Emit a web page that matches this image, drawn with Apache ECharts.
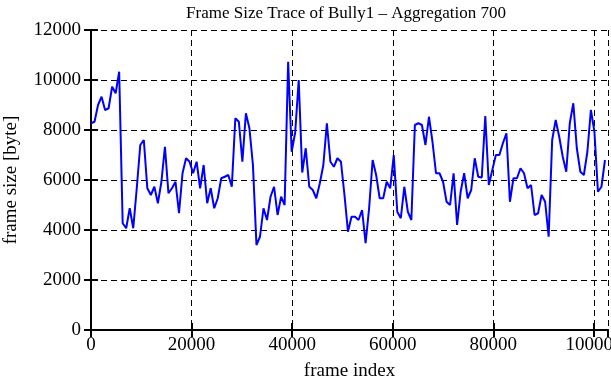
<!DOCTYPE html>
<html>
<head>
<meta charset="utf-8">
<script src="https://cdn.jsdelivr.net/npm/echarts@6/dist/echarts.min.js"></script>
<style>
html,body{margin:0;padding:0;background:#fff;}
#chart{width:611px;height:380px;}
</style>
</head>
<body>
<div id="chart"></div>
<script>
const titleText = 'Frame Size Trace of Bully1 \u2013 Aggregation 700';
const xName = 'frame index';
const yName = 'frame size [byte]';
const aggregation = 700;
const frameSizes = [
  8270, 8330, 9000, 9330, 8800, 8870, 9730, 9470, 10330, 4270,
  4070, 4870, 4070, 5670, 7400, 7600, 5670, 5400, 5730, 5070,
  5930, 7330, 5470, 5670, 5930, 4670, 6270, 6870, 6730, 6270,
  6730, 5670, 6600, 5070, 5670, 4870, 5270, 6070, 6130, 6200,
  5730, 8470, 8330, 6730, 8670, 8070, 6600, 3400, 3730, 4870,
  4400, 5330, 5730, 4600, 5330, 5000, 10730, 7130, 7900, 10000,
  6300, 7270, 5730, 5600, 5270, 5870, 6600, 8270, 6730, 6530,
  6870, 6730, 5400, 3930, 4530, 4530, 4400, 4800, 3470, 4870,
  6800, 6200, 5270, 5270, 5930, 5670, 7000, 4730, 4470, 5730,
  4730, 4400, 8200, 8270, 8200, 7400, 8530, 7530, 6270, 6270,
  5930, 5130, 5000, 6270, 4200, 5530, 6270, 5270, 5600, 6870,
  6130, 6100, 8560, 5800, 6400, 7000, 7000, 7470, 7870, 5130,
  6070, 6070, 6470, 6270, 5670, 5800, 4600, 4670, 5400, 5130,
  3730, 7600, 8400, 7730, 6930, 6330, 8270, 9070, 7270, 6330,
  6200, 7130, 8800, 7930, 5530, 5730, 6800
];
const xMin = 0, xMax = 102800, xStep = 20000;
const yMin = 0, yMax = 12000, yStep = 2000;

const seriesData = frameSizes.map((v, i) => [i * aggregation, v]);
const font = 'Liberation Serif';
const plain = v => String(v);

const dashed = {show: true, lineStyle: {color: '#000', type: [6, 4], width: 1}};
const tick = {show: true, inside: true, length: 7, lineStyle: {color: '#000', width: 2}};
const line = {show: true, lineStyle: {color: '#000', width: 2}};

const chart = echarts.init(document.getElementById('chart'), null, {renderer: 'canvas'});
chart.setOption({
  animation: false,
  backgroundColor: '#fff',
  title: {
    text: titleText, left: 341, top: 0, textAlign: 'center',
    textStyle: {fontFamily: font, fontWeight: 'normal', fontSize: 17, color: '#000'}
  },
  grid: {left: 91, top: 30, right: 3, bottom: 50, containLabel: false, outerBoundsMode: 'none'},
  xAxis: [{
    type: 'value', min: xMin, max: xMax, interval: xStep, position: 'bottom',
    name: xName, nameLocation: 'middle', nameGap: 32,
    nameTextStyle: {fontFamily: font, fontSize: 19, color: '#000'},
    axisLine: line, axisTick: tick, splitLine: dashed,
    axisLabel: {fontFamily: font, fontSize: 19, color: '#000', margin: 6, showMaxLabel: false, formatter: plain}
  }, {
    type: 'value', min: xMin, max: xMax, interval: xStep, position: 'top',
    axisLine: line, axisTick: tick, splitLine: {show: false}, axisLabel: {show: false}
  }],
  yAxis: [{
    type: 'value', min: yMin, max: yMax, interval: yStep, position: 'left',
    name: yName, nameLocation: 'middle', nameGap: 70,
    nameTextStyle: {fontFamily: font, fontSize: 19, color: '#000'},
    axisLine: line, axisTick: tick, splitLine: dashed,
    axisLabel: {fontFamily: font, fontSize: 19, color: '#000', margin: 10, formatter: plain}
  }, {
    type: 'value', min: yMin, max: yMax, interval: yStep, position: 'right',
    axisLine: line, axisTick: tick, splitLine: {show: false}, axisLabel: {show: false}
  }],
  series: [{
    type: 'line', data: seriesData, xAxisIndex: 0, yAxisIndex: 0,
    showSymbol: false, symbol: 'none',
    lineStyle: {color: '#0000ff', width: 2}
  }]
});
</script>
</body>
</html>
